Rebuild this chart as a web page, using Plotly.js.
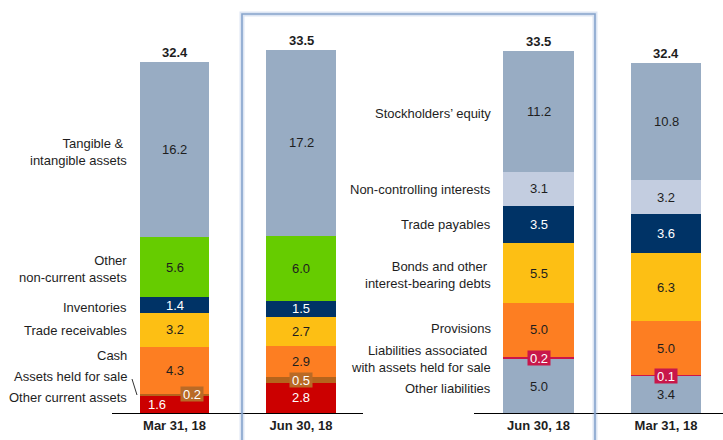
<!DOCTYPE html>
<html><head><meta charset="utf-8">
<script src="https://cdn.plot.ly/plotly-3.0.1.min.js"></script>
<style>html,body{margin:0;padding:0;background:#fff}#chart{width:723px;height:440px}</style>
</head><body><div id="chart"></div>
<script>
// ---------- DATA (each stack listed bottom -> top) ----------
const assetPeriods = ["Mar 31, 18", "Jun 30, 18"];
const liabPeriods  = ["Jun 30, 18", "Mar 31, 18"];

const assetItems = ["Other current assets", "Assets held for sale", "Cash", "Trade receivables",
                    "Inventories", "Other<br>non-current assets", "Tangible &\u00a0<br>intangible assets"];
const assetsMar18 = [1.6, 0.2, 4.3, 3.2, 1.4, 5.6, 16.2];
const assetsJun18 = [2.8, 0.5, 2.9, 2.7, 1.5, 6.0, 17.2];
const assetTotals = [32.4, 33.5];

const liabItems = ["Other liabilities", "Liabilities associated\u00a0<br>with assets held for sale", "Provisions",
                   "Bonds and other\u00a0<br>interest-bearing debts", "Trade payables",
                   "Non-controlling interests", "Stockholders\u2019 equity"];
const liabJun18 = [5.0, 0.2, 5.0, 5.5, 3.5, 3.1, 11.2];
const liabMar18 = [3.4, 0.1, 5.0, 6.3, 3.6, 3.2, 10.8];
const liabTotals = [33.5, 32.4];

// ---------- STYLE ----------
const FONT = "Liberation Sans, Arial, sans-serif";
const DARK = "#1e1e1e";
const assetColors = ["#cc0000", "#b5641c", "#fd7e22", "#fdbf14", "#003366", "#66cc00", "#98acc3"];
const liabColors  = ["#98acc3", "#cc1648", "#fd7e22", "#fdbf14", "#003366", "#c3cde0", "#98acc3"];
const assetTextColors = ["#fff", "#fff", DARK, DARK, "#fff", DARK, DARK];
const liabTextColors  = [DARK, "#fff", DARK, DARK, "#fff", DARK, DARK];
const assetBoxes = [null, "#b96a26", null, null, null, null, null];
const liabBoxes  = [null, "#c8174a", null, null, null, null, null];
// per-value nudges in pixels: key "column,segment"
const assetNudge = {"0,0": {xshift: -17.5, yshift: 0}, "0,1": {xshift: 17.5, yshift: 1}};
const liabNudge = {};
const assetLabelShift = [7, 18.6, 15, -1, -2, -1.5, -2.5];
const liabLabelShift  = [-2, -1, 1, -2, 0, -1, -1.5];

const W = 723, H = 440, BASE = 413, PXU = 10.8, YMAX = 36;
const yTopPx = BASE - YMAX * PXU;

function cum(arr) { const out = []; let s = 0; for (const v of arr) { out.push([s, s + v]); s += v; } return out; }

const traces = [];
function addStack(items, cols, periods, colors, xa) {
  items.forEach((name, i) => {
    traces.push({
      type: "bar", name: name.replace(/<br>/g, " "), x: periods, y: cols.map(c => c[i]),
      xaxis: xa, yaxis: "y", marker: {color: colors[i], line: {width: 0}},
      hoverinfo: "skip", width: 0.55
    });
  });
}
addStack(assetItems, [assetsMar18, assetsJun18], assetPeriods, assetColors, "x");
addStack(liabItems, [liabJun18, liabMar18], liabPeriods, liabColors, "x2");

const annotations = [];
function addValues(cols, xref, textColors, boxes, nudge, totals) {
  cols.forEach((col, j) => {
    const c = cum(col);
    col.forEach((v, i) => {
      const n = nudge[j + "," + i] || {xshift: 0, yshift: 0};
      const a = {
        xref: xref, yref: "y", x: j, y: (c[i][0] + c[i][1]) / 2, text: v.toFixed(1),
        showarrow: false, xanchor: "center", yanchor: "middle",
        xshift: n.xshift, yshift: n.yshift,
        font: {family: FONT, size: 13, color: textColors[i]}
      };
      if (boxes[i]) { a.bgcolor = boxes[i]; a.width = 22; a.height = 14; a.borderpad = 0; }
      annotations.push(a);
    });
    annotations.push({
      xref: xref, yref: "y", x: j, y: c[c.length - 1][1], text: totals[j].toFixed(1),
      showarrow: false, xanchor: "center", yanchor: "bottom", yshift: 0,
      font: {family: FONT, size: 13, color: DARK, weight: "bold"}
    });
  });
}
addValues([assetsMar18, assetsJun18], "x", assetTextColors, assetBoxes, assetNudge, assetTotals);
addValues([liabJun18, liabMar18], "x2", liabTextColors, liabBoxes, liabNudge, liabTotals);

function addSideLabels(items, col, xPx, shifts) {
  const c = cum(col);
  items.forEach((t, i) => {
    annotations.push({
      xref: "paper", yref: "y", x: xPx / W, y: (c[i][0] + c[i][1]) / 2, text: t,
      showarrow: false, xanchor: "right", yanchor: "middle", align: "right", yshift: shifts[i],
      font: {family: FONT, size: 13, color: DARK}
    });
  });
}
addSideLabels(assetItems, assetsMar18, 129, assetLabelShift);
addSideLabels(liabItems, liabJun18, 493, liabLabelShift);

const px = x => x / W, py = y => (H - y) / H;
const shapes = [
  {type: "line", xref: "paper", yref: "paper", x0: px(132), y0: py(379), x1: px(137), y1: py(395),
   line: {color: "#333", width: 1}},
  {type: "rect", xref: "paper", yref: "paper", x0: px(242), x1: px(595), y0: -0.05, y1: py(14),
   line: {color: "rgba(140,170,215,0.3)", width: 5}},
  {type: "rect", xref: "paper", yref: "paper", x0: px(242), x1: px(595), y0: -0.05, y1: py(14),
   line: {color: "#86a4cc", width: 1.6}}
];

const axisCommon = {
  type: "category", showline: true, linecolor: "#000", linewidth: 1, ticks: "",
  showgrid: false, zeroline: false, fixedrange: true,
  tickfont: {family: FONT, size: 13, color: DARK, weight: "bold"}
};
const layout = {
  width: W, height: H, margin: {l: 0, r: 0, t: 0, b: 0},
  paper_bgcolor: "#fff", plot_bgcolor: "rgba(0,0,0,0)",
  barmode: "stack", showlegend: false,
  xaxis: Object.assign({}, axisCommon, {domain: [px(112), px(363)], range: [-0.494, 1.49], anchor: "y"}),
  xaxis2: Object.assign({}, axisCommon, {domain: [px(474), 1], range: [-0.506, 1.447], anchor: "y"}),
  yaxis: {domain: [py(BASE), py(yTopPx)], range: [0, YMAX], visible: false, fixedrange: true},
  annotations: annotations, shapes: shapes
};
Plotly.newPlot("chart", traces, layout, {displayModeBar: false, staticPlot: true});
</script>
</body></html>
